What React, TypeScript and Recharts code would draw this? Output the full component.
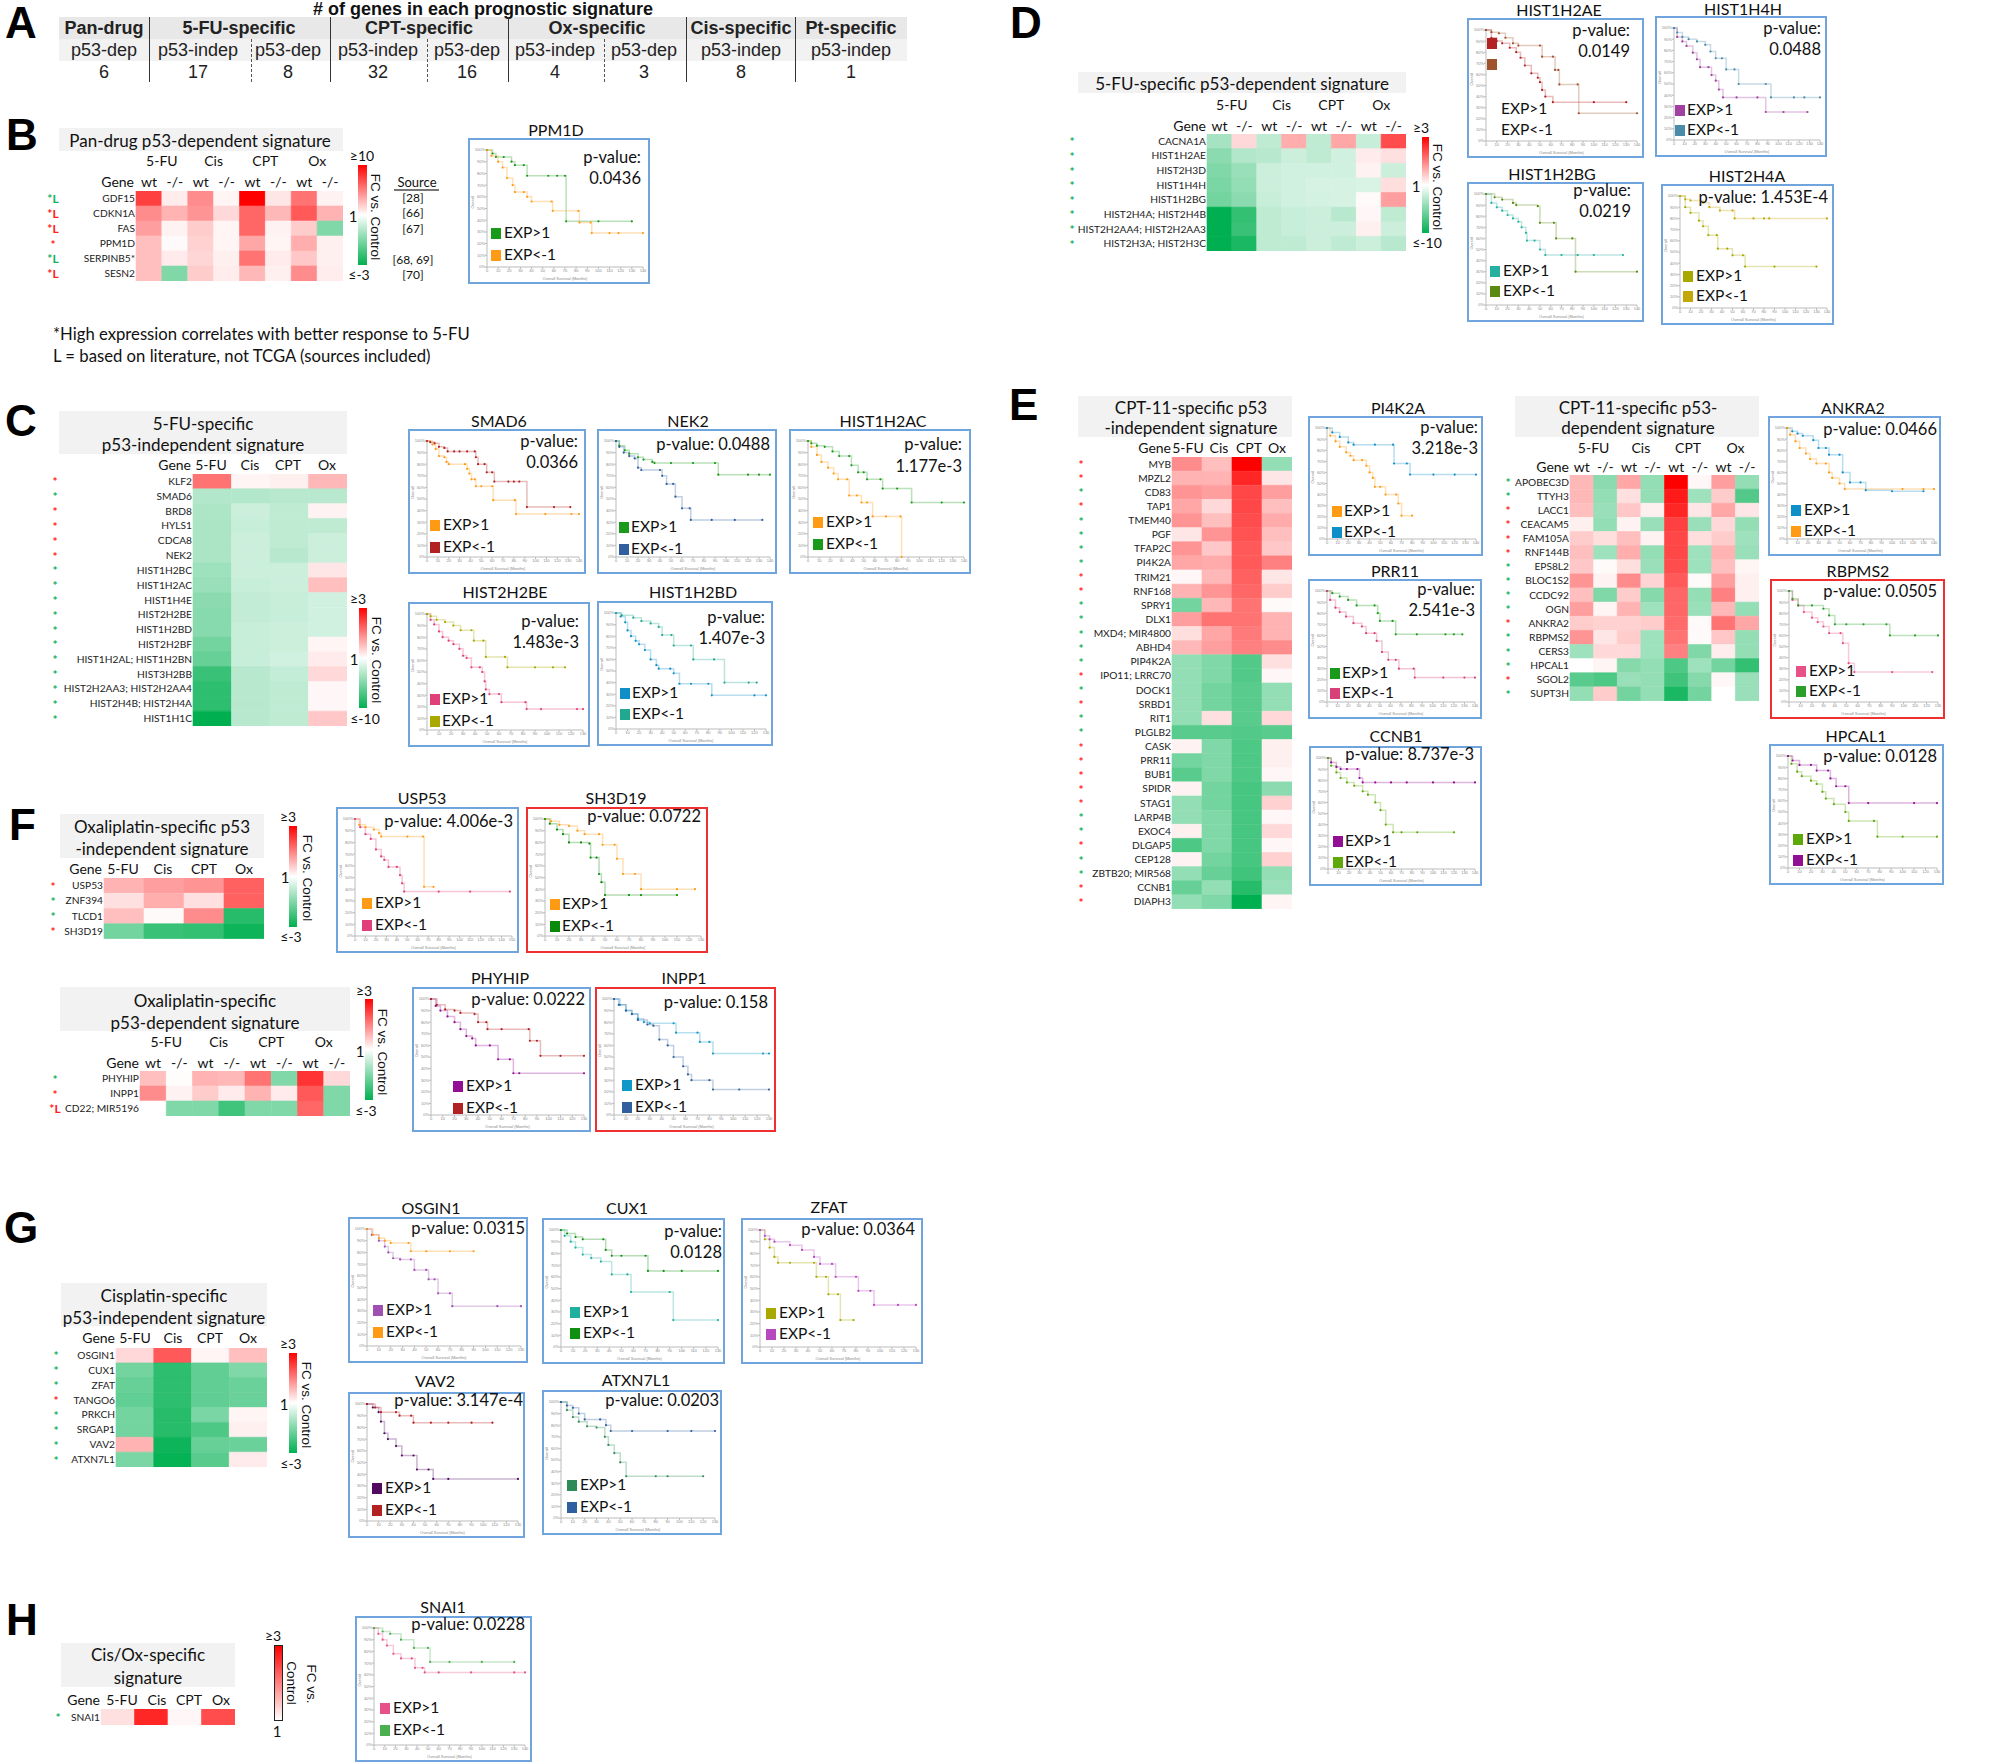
import React from 'react';
import { BarChart, Bar, Cell, XAxis, YAxis, LineChart, Line } from 'recharts';

type Pt = [number, number];

const FONT = 'Lato, "Open Sans", sans-serif';
const ARIAL = '"Liberation Sans", Arial, sans-serif';

// Panel A table
const tableHeads = ['Pan-drug', '5-FU-specific', 'CPT-specific', 'Ox-specific', 'Cis-specific', 'Pt-specific'];
const tableSubs = ['p53-dep', 'p53-indep', 'p53-dep', 'p53-indep', 'p53-dep', 'p53-indep', 'p53-dep', 'p53-indep', 'p53-indep'];
const tableCounts = [6, 17, 8, 32, 16, 4, 3, 8, 1];

// Heatmaps: fold change scaled to -1 (full green) .. 1 (full red)
const cols4 = ['5-FU', 'Cis', 'CPT', 'Ox'];

const bGenes = ['GDF15', 'CDKN1A', 'FAS', 'PPM1D', 'SERPINB5*', 'SESN2'];
const bMarks = ['gL', 'rL', 'rL', 'r', 'gL', 'rL'];
const bValues = [
  [0.75, 0.07, 0.45, 0.04, 1, 0.1, 0.55, 0.05],
  [0.45, 0.3, 0.42, 0.15, 0.6, 0.28, 0.65, 0.3],
  [0.38, 0.05, 0.2, 0.04, 0.6, 0.05, 0.2, -0.5],
  [0.25, 0.02, 0.18, 0.04, 0.35, 0.04, 0.32, 0.06],
  [0.25, 0.08, 0.16, 0.06, 0.55, 0.08, 0.22, 0.06],
  [0.25, -0.5, 0.2, 0.07, 0.28, 0.06, 0.45, 0.07],
];
const bSources = ['[28]', '[66]', '[67]', '', '[68, 69]', '[70]'];

const cGenes = ['KLF2', 'SMAD6', 'BRD8', 'HYLS1', 'CDCA8', 'NEK2', 'HIST1H2BC', 'HIST1H2AC', 'HIST1H4E', 'HIST2H2BE', 'HIST1H2BD', 'HIST2H2BF', 'HIST1H2AL; HIST1H2BN', 'HIST3H2BB', 'HIST2H2AA3; HIST2H2AA4', 'HIST2H4B; HIST2H4A', 'HIST1H1C'];
const cMarks = ['r', 'g', 'r', 'r', 'r', 'r', 'g', 'g', 'g', 'g', 'g', 'g', 'g', 'g', 'g', 'g', 'g'];
const cValues = [
  [0.55, 0.04, 0.06, 0.28],
  [-0.3, -0.3, -0.28, -0.28],
  [-0.32, -0.2, -0.25, 0.05],
  [-0.33, -0.22, -0.25, -0.25],
  [-0.33, -0.2, -0.25, -0.2],
  [-0.33, -0.2, -0.28, -0.2],
  [-0.38, -0.2, -0.2, 0.1],
  [-0.4, -0.22, -0.2, 0.25],
  [-0.45, -0.24, -0.22, -0.18],
  [-0.47, -0.24, -0.22, -0.18],
  [-0.47, -0.22, -0.2, -0.18],
  [-0.55, -0.22, -0.2, 0.04],
  [-0.6, -0.22, -0.18, 0.08],
  [-0.78, -0.28, -0.23, 0.15],
  [-0.82, -0.28, -0.25, 0.03],
  [-0.82, -0.28, -0.25, 0.03],
  [-1, -0.28, -0.25, 0.22],
];

const dGenes = ['CACNA1A', 'HIST1H2AE', 'HIST2H3D', 'HIST1H4H', 'HIST1H2BG', 'HIST2H4A; HIST2H4B', 'HIST2H2AA4; HIST2H2AA3', 'HIST2H3A; HIST2H3C'];
const dMarks = ['g', 'g', 'g', 'g', 'g', 'g', 'g', 'g'];
const dValues = [
  [-0.35, 0.15, -0.25, 0.32, -0.25, 0.35, -0.22, 0.7],
  [-0.45, -0.3, -0.28, -0.2, -0.25, -0.18, 0.08, 0.12],
  [-0.5, -0.4, -0.2, -0.18, -0.18, -0.18, 0.05, -0.2],
  [-0.52, -0.42, -0.2, -0.18, -0.16, -0.16, -0.15, 0.13],
  [-0.55, -0.45, -0.22, -0.18, -0.17, -0.16, 0.02, 0.38],
  [-1, -0.8, -0.25, -0.22, -0.2, -0.28, 0.03, -0.25],
  [-1, -0.78, -0.25, -0.22, -0.2, -0.2, 0.06, -0.2],
  [-1, -0.9, -0.25, -0.25, -0.2, -0.25, -0.2, -0.28],
];

const e1Genes = ['MYB', 'MPZL2', 'CD83', 'TAP1', 'TMEM40', 'PGF', 'TFAP2C', 'PI4K2A', 'TRIM21', 'RNF168', 'SPRY1', 'DLX1', 'MXD4; MIR4800', 'ABHD4', 'PIP4K2A', 'IPO11; LRRC70', 'DOCK1', 'SRBD1', 'RIT1', 'PLGLB2', 'CASK', 'PRR11', 'BUB1', 'SPIDR', 'STAG1', 'LARP4B', 'EXOC4', 'DLGAP5', 'CEP128', 'ZBTB20; MIR568', 'CCNB1', 'DIAPH3'];
const e1Marks = ['r', 'r', 'g', 'r', 'g', 'g', 'g', 'g', 'r', 'r', 'g', 'g', 'g', 'g', 'g', 'r', 'g', 'r', 'g', 'g', 'r', 'r', 'r', 'r', 'r', 'g', 'g', 'r', 'g', 'g', 'r', 'r'];
const e1Values = [
  [0.45, 0.25, 1, -0.42],
  [0.3, 0.3, 0.85, 0.1],
  [0.42, 0.38, 0.72, 0.38],
  [0.35, 0.15, 0.72, 0.25],
  [0.42, 0.25, 0.7, 0.33],
  [0.1, 0.42, 0.68, 0.25],
  [0.42, 0.22, 0.65, 0.22],
  [0.35, 0.33, 0.65, 0.5],
  [0.03, 0.28, 0.62, 0.1],
  [0.3, 0.42, 0.6, 0.2],
  [-0.55, 0.28, 0.55, 0.02],
  [0.38, 0.55, 0.55, 0.3],
  [0.13, 0.35, 0.52, 0.3],
  [0.28, 0.38, 0.5, 0.45],
  [-0.42, -0.5, -0.68, 0.12],
  [-0.42, -0.5, -0.68, 0.03],
  [-0.42, -0.55, -0.65, -0.42],
  [-0.42, -0.55, -0.65, -0.42],
  [-0.42, 0.12, -0.65, 0.15],
  [-0.65, -0.65, -0.68, -0.65],
  [0.05, -0.5, -0.7, 0.06],
  [-0.55, -0.5, -0.7, 0.06],
  [-0.65, -0.5, -0.7, 0.03],
  [0.05, -0.55, -0.72, -0.45],
  [-0.42, -0.55, -0.72, 0.18],
  [-0.42, -0.5, -0.72, 0.03],
  [0.06, -0.5, -0.72, 0.15],
  [-0.7, -0.5, -0.72, 0.03],
  [0.05, -0.55, -0.72, 0.18],
  [-0.42, -0.6, -0.75, -0.42],
  [-0.6, -0.42, -0.85, -0.4],
  [-0.42, -0.5, -1, 0.04],
];

const e2Genes = ['APOBEC3D', 'TTYH3', 'LACC1', 'CEACAM5', 'FAM105A', 'RNF144B', 'EPS8L2', 'BLOC1S2', 'CCDC92', 'OGN', 'ANKRA2', 'RBPMS2', 'CERS3', 'HPCAL1', 'SGOL2', 'SUPT3H'];
const e2Marks = ['g', 'g', 'r', 'r', 'r', 'r', 'g', 'g', 'g', 'g', 'r', 'g', 'g', 'g', 'r', 'g'];
const e2Values = [
  [0.28, -0.45, 0.35, -0.42, 1, 0.03, 0.38, -0.42],
  [0.28, -0.42, 0.12, -0.42, 0.9, -0.38, 0.2, -0.68],
  [0.25, -0.4, 0.22, 0.06, 0.85, 0.1, 0.35, 0.1],
  [0.06, -0.42, 0.05, -0.4, 0.75, -0.4, 0.15, -0.42],
  [0.2, 0.13, 0.25, 0.05, 0.72, 0.13, 0.2, -0.38],
  [0.25, -0.38, 0.32, -0.42, 0.72, -0.38, 0.3, -0.4],
  [0.22, 0.02, 0.13, -0.4, 0.7, -0.38, 0.25, 0.04],
  [0.42, 0.05, 0.45, 0.17, 0.65, 0.02, 0.38, 0.06],
  [0.25, -0.5, 0.2, -0.48, 0.6, -0.42, 0.5, 0.06],
  [0.38, 0.04, 0.3, -0.38, 0.6, -0.4, 0.28, -0.42],
  [0.2, 0.18, 0.18, 0.2, 0.58, 0.02, 0.55, 0.35],
  [0.42, 0.1, 0.2, -0.38, 0.55, 0.02, 0.22, -0.42],
  [-0.38, 0.15, 0.15, -0.38, 0.5, -0.5, 0.07, -0.42],
  [0, 0.04, -0.48, -0.42, -0.7, -0.38, -0.55, -0.8],
  [-0.65, -0.7, -0.4, -0.42, -0.75, -0.48, 0.03, -0.4],
  [-0.42, 0.2, -0.55, -0.42, -0.9, -0.55, 0, -0.4],
];

const f1Genes = ['USP53', 'ZNF394', 'TLCD1', 'SH3D19'];
const f1Marks = ['r', 'g', 'g', 'r'];
const f1Values = [
  [0.3, 0.38, 0.42, 0.62],
  [0.12, 0.32, 0.12, 0.62],
  [0.25, 0.02, 0.45, -0.85],
  [-0.55, -0.78, -0.8, -0.95],
];

const f2Genes = ['PHYHIP', 'INPP1', 'CD22; MIR5196'];
const f2Marks = ['g', 'r', 'rL'];
const f2Values = [
  [0.25, 0.01, 0.3, 0.28, 0.55, -0.5, 0.8, 0.15],
  [0.45, 0.05, 0.2, 0.08, 0.3, 0.08, 0.65, -0.5],
  [0, -0.5, -0.5, -0.75, -0.5, -0.5, 0.6, -0.5],
];

const gGenes = ['OSGIN1', 'CUX1', 'ZFAT', 'TANGO6', 'PRKCH', 'SRGAP1', 'VAV2', 'ATXN7L1'];
const gMarks = ['g', 'g', 'g', 'r', 'g', 'g', 'g', 'g'];
const gValues = [
  [0.15, 0.65, 0.04, 0.25],
  [-0.55, -0.82, -0.62, -0.5],
  [-0.6, -0.82, -0.62, -0.58],
  [-0.62, -0.82, -0.62, -0.58],
  [-0.55, -0.85, -0.52, 0.04],
  [-0.55, -0.85, -0.7, 0.06],
  [0.3, -0.95, -0.6, -0.58],
  [-0.52, -0.98, -0.65, 0.08],
];

const hGenes = ['SNAI1'];
const hMarks = ['g'];
const hValues = [[0.12, 0.85, 0.03, 0.7]];

// Survival curves: [months, % surviving]
const ppm1dHigh: Pt[] = [[0,100],[5,97],[8,94],[15,94],[22,90],[25,87],[33,87],[36,78],[55,78],[63,78],[70,78],[71,39],[100,39],[130,39]];
const ppm1dLow: Pt[] = [[0,100],[4,95],[10,90],[14,85],[18,76],[23,70],[25,64],[33,64],[36,60],[40,56],[58,56],[59,48],[82,48],[83,38],[93,38],[94,29],[110,29],[118,29],[140,29]];
const smad6High: Pt[] = [[0,100],[5,97],[8,93],[11,87],[16,86],[18,82],[20,80],[35,80],[37,76],[39,72],[41,67],[44,67],[45,61],[50,61],[60,61],[61,49],[81,49],[82,37],[109,37],[133,37],[140,37]];
const smad6Low: Pt[] = [[0,100],[3,99],[7,98],[11,95],[16,94],[19,91],[25,91],[30,91],[37,91],[44,91],[45,86],[47,80],[53,80],[55,73],[60,73],[62,65],[75,65],[80,65],[85,65],[92,43],[117,43],[132,43]];
const nek2High: Pt[] = [[0,100],[3,96],[8,92],[12,89],[20,86],[25,84],[33,82],[35,81],[50,81],[70,81],[90,81],[93,71],[120,71],[130,71],[140,71]];
const nek2Low: Pt[] = [[0,100],[3,95],[7,90],[12,87],[17,85],[20,77],[23,75],[40,75],[42,70],[46,63],[52,63],[54,52],[60,42],[67,42],[68,32],[87,32],[108,32],[133,32]];
const h1h2acHigh: Pt[] = [[0,100],[3,95],[8,88],[12,82],[18,77],[23,72],[27,67],[35,67],[37,53],[44,53],[48,47],[53,47],[58,35],[70,35],[83,35],[84,0]];
const h1h2acLow: Pt[] = [[0,100],[3,98],[8,96],[15,95],[22,91],[28,87],[37,87],[39,79],[45,73],[50,73],[53,67],[65,67],[67,59],[80,59],[93,47],[120,47],[140,47]];
const h2h2beHigh: Pt[] = [[0,100],[3,95],[6,91],[10,85],[13,80],[18,77],[22,74],[27,70],[30,64],[33,62],[37,54],[44,54],[46,50],[48,42],[49,35],[52,31],[60,31],[62,24],[82,24],[83,18],[95,18],[125,18],[130,18]];
const h2h2beLow: Pt[] = [[0,100],[3,98],[8,95],[15,93],[22,90],[28,86],[37,86],[39,77],[47,77],[49,63],[65,63],[67,54],[90,54],[105,54],[115,54]];
const h1h2bdHigh: Pt[] = [[0,100],[4,97],[8,92],[10,85],[13,80],[17,76],[20,73],[25,68],[30,60],[35,55],[37,52],[47,52],[50,48],[55,39],[65,39],[80,39],[83,29],[120,29],[130,29]];
const h1h2bdLow: Pt[] = [[0,100],[5,98],[15,96],[22,93],[30,91],[37,88],[40,81],[48,81],[50,72],[65,72],[67,60],[85,60],[94,40],[115,40],[122,40]];
const h1h2aeHigh: Pt[] = [[0,100],[5,93],[10,90],[15,88],[22,84],[28,80],[32,75],[36,68],[42,61],[48,57],[50,53],[52,46],[55,40],[62,35],[100,35],[130,35]];
const h1h2aeLow: Pt[] = [[0,100],[5,98],[12,97],[18,93],[25,88],[30,86],[50,86],[52,76],[62,76],[64,64],[67,64],[68,51],[85,51],[86,25],[140,25]];
const h1h4hHigh: Pt[] = [[0,100],[3,92],[8,88],[12,84],[18,78],[22,72],[25,65],[33,65],[36,58],[40,53],[43,45],[47,38],[60,38],[80,38],[88,25],[105,25],[128,25]];
const h1h4hLow: Pt[] = [[0,100],[3,96],[8,92],[14,90],[22,88],[30,85],[35,79],[40,73],[46,73],[50,63],[58,63],[62,50],[88,50],[93,38],[115,38],[125,38],[140,38]];
const h1h2bgHigh: Pt[] = [[0,100],[5,92],[10,88],[15,85],[20,81],[25,78],[30,75],[33,70],[37,65],[38,58],[45,58],[50,50],[55,45],[70,45],[85,45],[100,45],[127,45]];
const h1h2bgLow: Pt[] = [[0,100],[8,97],[15,95],[25,92],[28,90],[48,89],[50,74],[63,74],[65,60],[80,60],[83,30],[140,30]];
const h2h4aHigh: Pt[] = [[0,100],[5,90],[10,85],[18,78],[22,73],[27,65],[35,65],[36,53],[45,53],[50,47],[60,47],[62,37],[90,37],[130,37]];
const h2h4aLow: Pt[] = [[0,100],[5,97],[10,96],[22,94],[28,90],[38,87],[50,87],[52,80],[70,80],[80,80],[85,80],[140,80]];
const pi4k2aHigh: Pt[] = [[0,100],[3,93],[8,88],[12,83],[18,78],[22,75],[25,71],[33,71],[37,66],[40,60],[43,55],[45,47],[50,47],[55,40],[65,40],[67,32],[70,21],[80,21]];
const pi4k2aLow: Pt[] = [[0,100],[5,96],[12,92],[20,87],[25,85],[45,85],[62,85],[63,68],[75,68],[78,58],[100,58],[120,58],[140,58]];
const prr11High: Pt[] = [[0,100],[5,98],[12,95],[20,92],[28,87],[45,87],[48,80],[50,73],[62,73],[65,61],[85,61],[112,61],[120,61],[128,61]];
const prr11Low: Pt[] = [[0,100],[3,92],[8,85],[12,81],[18,77],[25,71],[33,68],[37,62],[45,62],[47,55],[52,45],[58,38],[65,38],[68,30],[82,30],[83,22],[110,22],[130,22],[140,22]];
const ccnb1High: Pt[] = [[0,100],[3,96],[8,92],[12,90],[18,90],[28,90],[30,82],[33,78],[45,78],[60,78],[75,78],[100,78],[120,78],[140,78]];
const ccnb1Low: Pt[] = [[0,100],[3,93],[8,87],[12,82],[18,78],[25,75],[33,70],[38,67],[45,60],[50,53],[55,40],[62,33],[70,33],[85,33],[120,33]];
const ankra2High: Pt[] = [[0,100],[5,97],[10,95],[15,93],[25,89],[30,82],[37,82],[40,76],[50,76],[53,60],[60,51],[70,51],[75,44],[100,43],[130,43]];
const ankra2Low: Pt[] = [[0,100],[3,94],[8,88],[12,82],[18,77],[22,72],[28,68],[37,68],[40,60],[43,55],[50,50],[55,45],[110,45],[130,45],[140,45]];
const rbpms2High: Pt[] = [[0,100],[3,92],[8,87],[13,81],[20,76],[25,72],[30,68],[35,62],[45,62],[47,53],[52,35],[57,27],[90,27],[125,27]];
const rbpms2Low: Pt[] = [[0,100],[3,93],[8,87],[20,87],[30,84],[35,78],[40,70],[50,70],[65,70],[85,70],[88,60],[110,60],[130,60]];
const hpcal1High: Pt[] = [[0,100],[3,93],[8,86],[12,82],[20,78],[25,75],[30,68],[33,62],[40,57],[50,50],[53,42],[75,42],[78,28],[100,28],[130,28]];
const hpcal1Low: Pt[] = [[0,100],[4,96],[10,92],[20,92],[25,87],[35,87],[37,80],[42,73],[50,73],[53,58],[70,58],[110,58],[130,58]];
const usp53High: Pt[] = [[0,100],[4,95],[10,93],[18,91],[23,88],[25,85],[50,85],[65,85],[66,42],[75,42]];
const usp53Low: Pt[] = [[0,100],[5,93],[10,87],[15,83],[20,74],[25,68],[28,65],[32,59],[40,59],[43,52],[45,45],[47,38],[80,38],[110,38],[148,38]];
const sh3d19High: Pt[] = [[0,100],[5,98],[12,95],[20,94],[27,90],[33,87],[45,87],[48,78],[58,78],[60,66],[65,53],[75,53],[80,40],[110,40],[125,40]];
const sh3d19Low: Pt[] = [[0,100],[4,96],[10,91],[15,87],[20,80],[30,80],[37,79],[38,67],[43,67],[45,53],[47,46],[50,35],[70,35],[80,35],[110,35]];
const phyhipHigh: Pt[] = [[0,100],[4,94],[8,90],[14,85],[20,80],[25,74],[30,68],[35,66],[38,60],[50,60],[57,48],[67,48],[70,36],[75,36],[130,36]];
const phyhipLow: Pt[] = [[0,100],[5,95],[12,91],[20,90],[25,88],[37,87],[40,80],[47,80],[48,74],[60,74],[83,74],[84,64],[90,64],[93,51],[110,51],[130,51]];
const inpp1High: Pt[] = [[0,100],[5,95],[10,90],[15,87],[20,83],[25,80],[30,79],[50,79],[52,71],[70,71],[72,63],[80,63],[83,53],[125,53],[130,53]];
const inpp1Low: Pt[] = [[0,100],[4,95],[10,90],[15,87],[20,82],[28,78],[33,77],[38,65],[45,60],[50,50],[58,42],[62,35],[65,30],[80,30],[83,22],[105,22],[130,22]];
const osgin1High: Pt[] = [[0,100],[4,95],[10,90],[15,85],[18,80],[22,75],[28,74],[37,74],[40,65],[50,65],[52,57],[57,57],[60,45],[70,45],[72,34],[110,34],[130,34]];
const osgin1Low: Pt[] = [[0,100],[5,95],[10,92],[15,90],[20,88],[35,88],[37,81],[50,81],[70,81],[90,81]];
const cux1High: Pt[] = [[0,100],[3,95],[8,90],[12,85],[18,79],[25,76],[33,73],[42,62],[55,62],[58,47],[90,47],[93,23],[130,23]];
const cux1Low: Pt[] = [[0,100],[5,97],[12,94],[18,92],[35,92],[37,83],[42,78],[50,78],[70,78],[72,65],[85,65],[100,65],[130,65]];
const zfatHigh: Pt[] = [[0,100],[4,92],[8,85],[12,77],[15,72],[25,72],[45,72],[47,60],[55,60],[57,45],[65,45],[67,23],[78,23]];
const zfatLow: Pt[] = [[0,100],[4,95],[8,92],[12,90],[25,87],[35,83],[45,77],[50,71],[60,71],[63,60],[80,60],[82,48],[92,48],[95,36],[115,36],[130,36]];
const vav2High: Pt[] = [[0,100],[5,97],[10,93],[12,85],[15,75],[18,70],[25,64],[30,56],[40,56],[43,44],[53,44],[57,36],[70,36],[130,36]];
const vav2Low: Pt[] = [[0,100],[7,97],[12,93],[25,93],[28,90],[38,90],[40,84],[55,84],[70,84],[90,84],[108,84]];
const atxn7l1High: Pt[] = [[0,100],[5,93],[10,87],[15,83],[22,79],[30,78],[37,70],[40,63],[45,56],[50,48],[55,36],[80,36],[90,36],[120,36]];
const atxn7l1Low: Pt[] = [[0,100],[5,97],[10,95],[15,90],[20,85],[33,85],[38,80],[42,75],[60,75],[90,75],[110,75],[130,75]];
const snai1High: Pt[] = [[0,100],[4,95],[8,90],[12,85],[18,78],[25,74],[35,74],[38,66],[45,66],[47,62],[60,62],[90,62],[130,62],[140,62]];
const snai1Low: Pt[] = [[0,100],[8,97],[15,95],[25,90],[37,83],[50,83],[52,71],[70,71],[100,71],[130,71]];

const ORANGE = '#FF9A15';
const GREEN = '#1A9A1A';
const BLUE = '#0F8FC8';
const NAVY = '#2F5F9F';
const RED = '#B22222';
const PINK = '#E0407A';
const OLIVE = '#A8A800';
const PURPLE = '#920E92';
const LIME = '#5FA80A';
const TEAL = '#20A890';

const mix = (a: number[], t: number) =>
  `rgb(${a.map((c) => Math.round(255 + (c - 255) * t)).join(',')})`;
const heatColor = (v: number) => (v >= 0 ? mix([255, 0, 0], v) : mix([0, 176, 80], -v));

const Label = ({ x, y, children, anchor = 'middle', size = 14, color = '#111', font = FONT, weight = 400, rotate = 0 }: any) => {
  const tx = anchor === 'middle' ? '-50%' : anchor === 'end' ? '-100%' : '0';
  return (
    <div
      style={{
        position: 'absolute',
        left: x,
        top: y,
        transform: `translate(${tx}, -50%)${rotate ? ` rotate(${rotate}deg)` : ''}`,
        whiteSpace: 'nowrap',
        fontFamily: font,
        fontSize: size,
        fontWeight: weight,
        color,
        lineHeight: 1,
      }}
    >
      {children}
    </div>
  );
};

const Rect = ({ x0, y0, x1, y1, fill }: any) => (
  <div style={{ position: 'absolute', left: x0, top: y0, width: x1 - x0, height: y1 - y0, background: fill }} />
);

const Banner = ({ x0, y0, x1, y1, lines, cx, ys, size = 17 }: any) => (
  <>
    <Rect x0={x0} y0={y0} x1={x1} y1={y1} fill="#F2F2F2" />
    {lines.map((t: string, i: number) => (
      <Label key={t} x={cx} y={ys[i]} size={size}>{t}</Label>
    ))}
  </>
);

const ColorBar = ({ x0, y0, x1, y1, top = '≥3', bottom = '≤-3', topAt, midAt, botAt, fcX, fcY }: any) => (
  <>
    <div
      style={{
        position: 'absolute',
        left: x0,
        top: y0,
        width: x1 - x0,
        height: y1 - y0,
        background: 'linear-gradient(to bottom, #FF0000, #FFFFFF 50%, #00B050)',
      }}
    />
    <Label x={topAt[0]} y={topAt[1]} size={14}>{top}</Label>
    <Label x={midAt[0]} y={midAt[1]} size={15}>1</Label>
    <Label x={botAt[0]} y={botAt[1]} size={14}>{bottom}</Label>
    <Label x={fcX} y={fcY} size={13.5} font={ARIAL} rotate={90}>FC vs. Control</Label>
  </>
);

// Heat map as a stacked horizontal bar chart with one unit-wide bar per column
const Heatmap = ({ genes, marks, values, starX, x0, x1, y0, y1, fontSize = 10.2 }: any) => {
  const n = values[0].length;
  const data = genes.map((gene: string) => {
    const row: any = { gene };
    for (let j = 0; j < n; j++) row[`c${j}`] = 1;
    return row;
  });
  const left = starX - 8;
  const axisW = x0 - left;
  const renderTick = (p: any) => {
    const i = genes.indexOf(p.payload.value);
    const mark = marks[i];
    const color = mark[0] === 'r' ? '#FF2020' : '#10B060';
    return (
      <g>
        <text x={p.x} y={p.y} dy={3.5} textAnchor="end" fontFamily={FONT} fontSize={fontSize} fill="#222">
          {p.payload.value}
        </text>
        <text x={8} y={p.y} dy={mark.length > 1 ? 4 : 5} textAnchor="middle" fontFamily={FONT} fontWeight={700} fontSize={12} fill={color}>
          {mark.length > 1 ? '*L' : '*'}
        </text>
      </g>
    );
  };
  return (
    <div style={{ position: 'absolute', left, top: y0 }}>
      <BarChart
        width={x1 - left}
        height={y1 - y0}
        data={data}
        layout="vertical"
        barCategoryGap={0}
        margin={{ top: 0, right: 0, bottom: 0, left: 0 }}
      >
        <XAxis type="number" domain={[0, n]} hide />
        <YAxis
          type="category"
          dataKey="gene"
          width={axisW}
          interval={0}
          axisLine={false}
          tickLine={false}
          tickSize={0}
          tickMargin={1}
          tick={renderTick}
        />
        {Array.from({ length: n }, (_, j) => (
          <Bar key={j} dataKey={`c${j}`} stackId="a" isAnimationActive={false}>
            {values.map((row: number[], i: number) => (
              <Cell key={i} fill={heatColor(row[j])} stroke={heatColor(row[j])} strokeWidth={0.6} />
            ))}
          </Bar>
        ))}
      </BarChart>
    </div>
  );
};

// Column heads above a heat map
const HeatHeads = ({ x0, x1, n, groupY, colY, geneRight, headCenters }: any) => {
  const w = (x1 - x0) / n;
  return (
    <>
      <Label x={geneRight} y={colY} anchor="end">Gene</Label>
      {n === 8
        ? cols4.map((c, i) => (
            <React.Fragment key={c}>
              <Label x={x0 + w * (2 * i + 1)} y={groupY}>{c}</Label>
              <Label x={x0 + w * (2 * i + 0.5)} y={colY}>wt</Label>
              <Label x={x0 + w * (2 * i + 1.5)} y={colY}>-/-</Label>
            </React.Fragment>
          ))
        : cols4.map((c, i) => (
            <Label key={c} x={headCenters ? headCenters[i] : x0 + w * (i + 0.5)} y={colY}>{c}</Label>
          ))}
    </>
  );
};

const KmPanel = ({ box, title, titleAt, p, pRight, pY, swatchX, textX, legY, swatchY, colors, curves, xMax = 140, alert = false }: any) => {
  const [x0, y0, x1, y1] = box;
  const w = x1 - x0;
  const h = y1 - y0;
  const xTicks: number[] = [];
  for (let t = 0; t <= xMax; t += 10) xTicks.push(t);
  const yTicks = [0, 10, 20, 30, 40, 50, 60, 70, 80, 90, 100];
  const sY = swatchY || legY;
  const tickStyle = { fontSize: 4, fill: '#888', fontFamily: ARIAL };
  return (
    <>
      <div style={{ position: 'absolute', left: x0, top: y0 }}>
        <LineChart width={w} height={h} margin={{ top: 12, right: 7, bottom: 9, left: 3 }}>
          <XAxis
            type="number"
            dataKey="x"
            domain={[0, xMax]}
            ticks={xTicks}
            interval={0}
            tick={tickStyle}
            tickSize={2}
            tickMargin={0}
            height={8}
            stroke="#BBB"
            label={{ value: 'Overall Survival (Months)', position: 'bottom', offset: 2, style: tickStyle }}
          />
          <YAxis
            type="number"
            domain={[0, 100]}
            ticks={yTicks}
            interval={0}
            tickFormatter={(v) => `${v}%`}
            tick={tickStyle}
            tickSize={2}
            tickMargin={0}
            width={16}
            stroke="#BBB"
            label={{ value: 'Overall', angle: -90, position: 'insideLeft', offset: 2, style: tickStyle }}
          />
          {curves.map((c: Pt[], i: number) => (
            <Line
              key={i}
              data={c.map(([x, y]) => ({ x, y }))}
              dataKey="y"
              type="stepAfter"
              stroke={colors[i]}
              strokeOpacity={0.3}
              strokeWidth={1.5}
              dot={{ r: 1.1, fill: colors[i], stroke: 'none' }}
              isAnimationActive={false}
            />
          ))}
        </LineChart>
      </div>
      <div
        style={{
          position: 'absolute',
          left: x0,
          top: y0,
          width: w,
          height: h,
          boxSizing: 'border-box',
          border: `2px solid ${alert ? '#F03030' : '#6FA5DC'}`,
        }}
      />
      <Label x={titleAt[0]} y={titleAt[1]} size={16}>{title}</Label>
      {p.map((t: string, i: number) => (
        <Label key={t} x={pRight} y={pY[i]} anchor="end" size={16.5}>{t}</Label>
      ))}
      {['EXP>1', 'EXP<-1'].map((t, i) => (
        <React.Fragment key={t}>
          <Rect x0={swatchX} y0={sY[i] - 5.5} x1={swatchX + 9.5} y1={sY[i] + 5.5} fill={colors[i]} />
          <Label x={textX} y={legY[i]} anchor="start" size={15.5}>{t}</Label>
        </React.Fragment>
      ))}
    </>
  );
};

const solidDividers = [149, 330, 508, 686, 795];
const dashedDividers = [251, 427, 604];
const headCenters = [104, 239, 419, 597, 741, 851];
const subCenters = [104, 198, 288, 378, 467, 555, 644, 741, 851];

export default function App() {
  return (
    <div style={{ position: 'relative', width: 2000, height: 1764, overflow: 'hidden', background: '#fff' }}>
      <style>{'body{margin:0}'}</style>

      {/* A */}
      <Label x={5} y={23} anchor="start" size={44} weight={700} font={ARIAL} color="#000">A</Label>
      <Rect x0={59} y0={17} x1={907} y1={39} fill="#E8E8E8" />
      <Rect x0={59} y0={39} x1={907} y1={61} fill="#F2F2F2" />
      <Label x={483} y={9} size={18} weight={700} font={ARIAL}># of genes in each prognostic signature</Label>
      {solidDividers.map((x) => (
        <div key={x} style={{ position: 'absolute', left: x, top: 17, width: 0, height: 65, borderLeft: '1.5px solid #333' }} />
      ))}
      {dashedDividers.map((x) => (
        <div key={x} style={{ position: 'absolute', left: x, top: 39, width: 0, height: 43, borderLeft: '1px dashed #555' }} />
      ))}
      {tableHeads.map((t, i) => (
        <Label key={t} x={headCenters[i]} y={28} size={18} weight={700} font={ARIAL} color="#222">{t}</Label>
      ))}
      {tableSubs.map((t, i) => (
        <Label key={i} x={subCenters[i]} y={50} size={18} font={ARIAL} color="#222">{t}</Label>
      ))}
      {tableCounts.map((t, i) => (
        <Label key={i} x={subCenters[i]} y={72} size={18} font={ARIAL} color="#222">{t}</Label>
      ))}

      {/* B */}
      <Label x={6} y={135} anchor="start" size={44} weight={700} font={ARIAL} color="#000">B</Label>
      <Banner x0={59} y0={128} x1={343} y1={151} lines={['Pan-drug p53-dependent signature']} cx={200} ys={[140]} />
      <HeatHeads x0={136} x1={343} n={8} groupY={161} colY={182} geneRight={134} />
      <Heatmap genes={bGenes} marks={bMarks} values={bValues} starX={53} x0={136} x1={343} y0={191} y1={281} />
      <ColorBar x0={358} y0={165} x1={367} y1={265} top="≥10" topAt={[362, 156]} midAt={[353, 216]} botAt={[359, 275]} fcX={375} fcY={217} />
      <Label x={417} y={182} size={13}>Source</Label>
      <Rect x0={394} y0={189} x1={439} y1={190.5} fill="#777" />
      {bSources.map((t, i) => (
        <Label key={i} x={413} y={198 + i * 15.4} size={12}>{t}</Label>
      ))}
      <KmPanel box={[468, 138, 650, 284]} title="PPM1D" titleAt={[556, 130]} p={['p-value:', '0.0436']} pRight={641} pY={[157, 178]} swatchX={491} textX={504} legY={[233, 255]} colors={[GREEN, ORANGE]} curves={[ppm1dHigh, ppm1dLow]} />
      <Label x={53} y={334} anchor="start" size={16.7}>*High expression correlates with better response to 5-FU</Label>
      <Label x={53} y={356} anchor="start" size={16.7}>L = based on literature, not TCGA (sources included)</Label>

      {/* C */}
      <Label x={5} y={421} anchor="start" size={44} weight={700} font={ARIAL} color="#000">C</Label>
      <Banner x0={59} y0={411} x1={347} y1={454} lines={['5-FU-specific', 'p53-independent signature']} cx={203} ys={[423, 444]} />
      <HeatHeads x0={193} x1={347} n={4} colY={465} geneRight={191} headCenters={[211, 250, 288, 327]} />
      <Heatmap genes={cGenes} marks={cMarks} values={cValues} starX={55} x0={193} x1={347} y0={474} y1={726} />
      <ColorBar x0={359} y0={608} x1={367} y1={708} bottom="≤-10" topAt={[358, 599]} midAt={[354, 659]} botAt={[365, 719]} fcX={376} fcY={660} />
      <KmPanel box={[408, 429, 586, 574]} title="SMAD6" titleAt={[499, 421]} p={['p-value:', '0.0366']} pRight={578} pY={[441, 462]} swatchX={430} textX={443} legY={[525, 547]} colors={[ORANGE, RED]} curves={[smad6High, smad6Low]} />
      <KmPanel box={[597, 429, 777, 574]} title="NEK2" titleAt={[688, 421]} p={['p-value: 0.0488']} pRight={770} pY={[444]} swatchX={619} textX={631} legY={[527, 549]} colors={[GREEN, NAVY]} curves={[nek2High, nek2Low]} />
      <KmPanel box={[789, 429, 971, 574]} title="HIST1H2AC" titleAt={[883, 421]} p={['p-value:', '1.177e-3']} pRight={962} pY={[444, 466]} swatchX={813} textX={826} legY={[522, 544]} colors={[ORANGE, GREEN]} curves={[h1h2acHigh, h1h2acLow]} />
      <KmPanel box={[408, 602, 590, 747]} title="HIST2H2BE" titleAt={[505, 592]} p={['p-value:', '1.483e-3']} pRight={579} pY={[621, 642]} swatchX={430} textX={442} legY={[699, 721]} colors={[PINK, OLIVE]} curves={[h2h2beHigh, h2h2beLow]} xMax={130} />
      <KmPanel box={[597, 601, 773, 746]} title="HIST1H2BD" titleAt={[693, 592]} p={['p-value:', '1.407e-3']} pRight={765} pY={[617, 638]} swatchX={620} textX={632} legY={[693, 714]} colors={[BLUE, TEAL]} curves={[h1h2bdHigh, h1h2bdLow]} xMax={130} />

      {/* D */}
      <Label x={1010} y={23} anchor="start" size={44} weight={700} font={ARIAL} color="#000">D</Label>
      <Banner x0={1078} y0={72} x1={1406} y1={93} lines={['5-FU-specific p53-dependent signature']} cx={1242} ys={[83]} />
      <HeatHeads x0={1207} x1={1406} n={8} groupY={105} colY={126} geneRight={1206} />
      <Heatmap genes={dGenes} marks={dMarks} values={dValues} starX={1072} x0={1207} x1={1406} y0={134} y1={251} />
      <ColorBar x0={1422} y0={137} x1={1429} y1={233} bottom="≤-10" topAt={[1421, 128]} midAt={[1416, 186]} botAt={[1427, 243]} fcX={1437} fcY={187} />
      <KmPanel box={[1467, 18, 1644, 158]} title="HIST1H2AE" titleAt={[1559, 10]} p={['p-value:', '0.0149']} pRight={1630} pY={[30, 51]} swatchX={1487} textX={1501} legY={[109, 130]} swatchY={[43, 64]} colors={[RED, '#A0522D']} curves={[h1h2aeHigh, h1h2aeLow]} />
      <KmPanel box={[1655, 16, 1827, 157]} title="HIST1H4H" titleAt={[1743, 8.5]} p={['p-value:', '0.0488']} pRight={1821} pY={[28, 49]} swatchX={1675} textX={1687} legY={[110, 130]} colors={['#A040A0', '#4A8BA8']} curves={[h1h4hHigh, h1h4hLow]} />
      <KmPanel box={[1467, 182, 1644, 322]} title="HIST1H2BG" titleAt={[1552, 174]} p={['p-value:', '0.0219']} pRight={1631} pY={[190, 211]} swatchX={1490} textX={1503} legY={[271, 291]} colors={['#25B0A0', '#5A8A10']} curves={[h1h2bgHigh, h1h2bgLow]} />
      <KmPanel box={[1661, 184, 1834, 325]} title="HIST2H4A" titleAt={[1747, 176]} p={['p-value: 1.453E-4']} pRight={1828} pY={[197]} swatchX={1683} textX={1696} legY={[276, 296]} colors={[OLIVE, '#C4A80A']} curves={[h2h4aHigh, h2h4aLow]} />

      {/* E */}
      <Label x={1009} y={405} anchor="start" size={44} weight={700} font={ARIAL} color="#000">E</Label>
      <Banner x0={1078} y0={396} x1={1292} y1={437} lines={['CPT-11-specific p53', '-independent signature']} cx={1191} ys={[407, 427]} />
      <HeatHeads x0={1172} x1={1292} n={4} colY={448} geneRight={1171} headCenters={[1188, 1219, 1249, 1277]} />
      <Heatmap genes={e1Genes} marks={e1Marks} values={e1Values} starX={1081} x0={1172} x1={1292} y0={457} y1={909} />
      <KmPanel box={[1308, 416, 1483, 556]} title="PI4K2A" titleAt={[1398, 408]} p={['p-value:', '3.218e-3']} pRight={1478} pY={[427, 448]} swatchX={1332} textX={1344} legY={[511, 532]} colors={[ORANGE, BLUE]} curves={[pi4k2aHigh, pi4k2aLow]} />
      <KmPanel box={[1308, 579, 1482, 719]} title="PRR11" titleAt={[1395, 571]} p={['p-value:', '2.541e-3']} pRight={1475} pY={[589, 610]} swatchX={1330} textX={1342} legY={[673, 693]} colors={[GREEN, '#D84078']} curves={[prr11High, prr11Low]} />
      <KmPanel box={[1309, 746, 1482, 886]} title="CCNB1" titleAt={[1396, 736]} p={['p-value: 8.737e-3']} pRight={1474} pY={[754]} swatchX={1333} textX={1345} legY={[841, 862]} colors={[PURPLE, LIME]} curves={[ccnb1High, ccnb1Low]} />
      <Banner x0={1515} y0={396} x1={1759} y1={437} lines={['CPT-11-specific p53-', 'dependent signature']} cx={1638} ys={[407, 427]} />
      <HeatHeads x0={1570} x1={1759} n={8} groupY={448} colY={467} geneRight={1569} />
      <Heatmap genes={e2Genes} marks={e2Marks} values={e2Values} starX={1508} x0={1570} x1={1759} y0={475} y1={701} />
      <KmPanel box={[1768, 416, 1941, 556]} title="ANKRA2" titleAt={[1853, 408]} p={['p-value: 0.0466']} pRight={1937} pY={[429]} swatchX={1791} textX={1804} legY={[510, 531]} colors={[BLUE, ORANGE]} curves={[ankra2High, ankra2Low]} />
      <KmPanel box={[1770, 579, 1945, 719]} title="RBPMS2" titleAt={[1858, 571]} p={['p-value: 0.0505']} pRight={1937} pY={[591]} swatchX={1796} textX={1809} legY={[671, 691]} colors={['#E85088', '#2AA02A']} curves={[rbpms2High, rbpms2Low]} xMax={130} alert />
      <KmPanel box={[1769, 744, 1944, 885]} title="HPCAL1" titleAt={[1856, 736]} p={['p-value: 0.0128']} pRight={1937} pY={[756]} swatchX={1793} textX={1806} legY={[839, 860]} colors={[LIME, PURPLE]} curves={[hpcal1High, hpcal1Low]} xMax={130} />

      {/* F */}
      <Label x={9} y={825} anchor="start" size={44} weight={700} font={ARIAL} color="#000">F</Label>
      <Banner x0={60} y0={814} x1={264} y1={858} lines={['Oxaliplatin-specific p53', '-independent signature']} cx={162} ys={[826, 848]} />
      <HeatHeads x0={104} x1={264} n={4} colY={869} geneRight={102} headCenters={[123, 163, 204, 244]} />
      <Heatmap genes={f1Genes} marks={f1Marks} values={f1Values} starX={53} x0={104} x1={264} y0={878} y1={939} />
      <ColorBar x0={289} y0={826} x1={297} y1={927} topAt={[288, 817]} midAt={[285, 877]} botAt={[291, 937]} fcX={307} fcY={878} />
      <KmPanel box={[336, 807, 519, 953]} title="USP53" titleAt={[422, 798]} p={['p-value: 4.006e-3']} pRight={513} pY={[821]} swatchX={362} textX={375} legY={[903, 925]} colors={[ORANGE, PINK]} curves={[usp53High, usp53Low]} xMax={150} />
      <KmPanel box={[526, 807, 708, 953]} title="SH3D19" titleAt={[616, 798]} p={['p-value: 0.0722']} pRight={701} pY={[816]} swatchX={550} textX={562} legY={[904, 926]} colors={[ORANGE, '#0A8A0A']} curves={[sh3d19High, sh3d19Low]} xMax={130} alert />
      <Banner x0={60} y0={987} x1={350} y1={1031} lines={['Oxaliplatin-specific', 'p53-dependent signature']} cx={205} ys={[1000, 1022]} />
      <HeatHeads x0={140} x1={350} n={8} groupY={1042} colY={1063} geneRight={139} />
      <Heatmap genes={f2Genes} marks={f2Marks} values={f2Values} starX={55} x0={140} x1={350} y0={1071} y1={1116} />
      <ColorBar x0={365} y0={999} x1={373} y1={1100} topAt={[364, 991]} midAt={[360, 1051]} botAt={[366, 1111]} fcX={382} fcY={1052} />
      <KmPanel box={[412, 987, 591, 1132]} title="PHYHIP" titleAt={[500, 978]} p={['p-value: 0.0222']} pRight={585} pY={[999]} swatchX={453} textX={466} legY={[1086, 1108]} colors={[PURPLE, RED]} curves={[phyhipHigh, phyhipLow]} xMax={130} />
      <KmPanel box={[595, 987, 776, 1132]} title="INPP1" titleAt={[684, 978]} p={['p-value: 0.158']} pRight={768} pY={[1002]} swatchX={622} textX={635} legY={[1085, 1107]} colors={['#1098C8', NAVY]} curves={[inpp1High, inpp1Low]} xMax={130} alert />

      {/* G */}
      <Label x={4} y={1228} anchor="start" size={44} weight={700} font={ARIAL} color="#000">G</Label>
      <Banner x0={61} y0={1283} x1={267} y1={1326} lines={['Cisplatin-specific', 'p53-independent signature']} cx={164} ys={[1295, 1317]} />
      <HeatHeads x0={116} x1={267} n={4} colY={1338} geneRight={115} headCenters={[135, 173, 210, 248]} />
      <Heatmap genes={gGenes} marks={gMarks} values={gValues} starX={56} x0={116} x1={267} y0={1348} y1={1467} />
      <ColorBar x0={289} y0={1353} x1={297} y1={1453} topAt={[288, 1344]} midAt={[284, 1404]} botAt={[291, 1464]} fcX={306} fcY={1405} />
      <KmPanel box={[348, 1217, 528, 1363]} title="OSGIN1" titleAt={[431, 1208]} p={['p-value: 0.0315']} pRight={525} pY={[1228]} swatchX={373} textX={386} legY={[1310, 1332]} colors={['#A050B0', ORANGE]} curves={[osgin1High, osgin1Low]} xMax={130} />
      <KmPanel box={[542, 1218, 725, 1364]} title="CUX1" titleAt={[627, 1208]} p={['p-value:', '0.0128']} pRight={722} pY={[1231, 1252]} swatchX={570} textX={583} legY={[1312, 1333]} colors={['#20B0A0', '#109010']} curves={[cux1High, cux1Low]} xMax={130} />
      <KmPanel box={[741, 1218, 923, 1364]} title="ZFAT" titleAt={[829, 1207]} p={['p-value: 0.0364']} pRight={915} pY={[1229]} swatchX={766} textX={779} legY={[1313, 1334]} colors={[OLIVE, '#B848C0']} curves={[zfatHigh, zfatLow]} xMax={130} />
      <KmPanel box={[348, 1392, 525, 1538]} title="VAV2" titleAt={[435, 1381]} p={['p-value: 3.147e-4']} pRight={523} pY={[1400]} swatchX={372} textX={385} legY={[1488, 1510]} colors={['#500A60', RED]} curves={[vav2High, vav2Low]} xMax={130} />
      <KmPanel box={[542, 1390, 722, 1535]} title="ATXN7L1" titleAt={[636, 1380]} p={['p-value: 0.0203']} pRight={719} pY={[1400]} swatchX={567} textX={580} legY={[1485, 1507]} colors={['#2E8B57', NAVY]} curves={[atxn7l1High, atxn7l1Low]} xMax={130} />

      {/* H */}
      <Label x={6} y={1620} anchor="start" size={44} weight={700} font={ARIAL} color="#000">H</Label>
      <Banner x0={61} y0={1643} x1={235} y1={1687} lines={['Cis/Ox-specific', 'signature']} cx={148} ys={[1654, 1677]} />
      <HeatHeads x0={101} x1={235} n={4} colY={1700} geneRight={100} headCenters={[122, 157, 189, 221]} />
      <Heatmap genes={hGenes} marks={hMarks} values={hValues} starX={58} x0={101} x1={235} y0={1709} y1={1725} />
      <div
        style={{
          position: 'absolute',
          left: 274,
          top: 1645,
          width: 9,
          height: 76,
          boxSizing: 'border-box',
          border: '1px solid #222',
          background: 'linear-gradient(to bottom, #FF0000, #FFFFFF)',
        }}
      />
      <Label x={273} y={1636} size={14}>≥3</Label>
      <Label x={277} y={1731} size={15}>1</Label>
      <Label x={311} y={1684} size={13.5} font={ARIAL} rotate={90}>FC vs.</Label>
      <Label x={291} y={1683} size={13.5} font={ARIAL} rotate={90}>Control</Label>
      <KmPanel box={[355, 1616, 532, 1762]} title="SNAI1" titleAt={[443, 1607]} p={['p-value: 0.0228']} pRight={525} pY={[1624]} swatchX={380} textX={393} legY={[1708, 1730]} colors={['#E85088', '#4CAF50']} curves={[snai1High, snai1Low]} />
    </div>
  );
}
